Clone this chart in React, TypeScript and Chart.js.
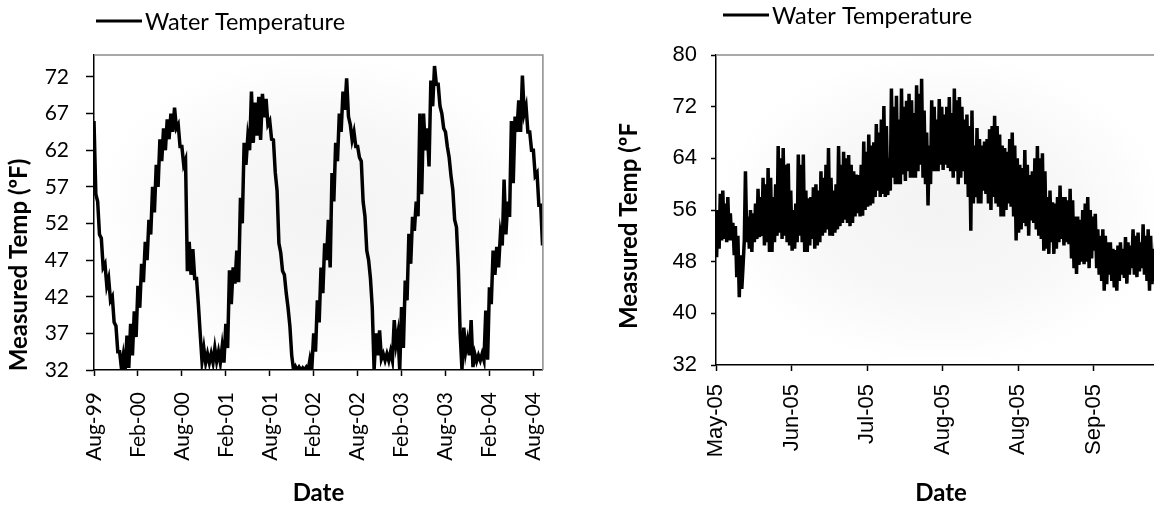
import React, { useEffect, useRef } from "react";
import { Chart, registerables } from "chart.js";

Chart.register(...registerables);

const SERIES_LABEL = "Water Temperature";
const Y_TITLE_LONG = "Measured Temp (ºF)";
const Y_TITLE_SEASON = "Measured Temp (ºF";
const X_TITLE = "Date";

// ---- Long-term record, Aug 1999 onward: high and low reading per half month ----
const longTermPeriodMonths = 0.5;
const longTermHigh = [
  66, 55, 50, 46.5, 44.5, 42, 38, 34.5, 34, 36.7,
  38.3, 40, 43.5, 46.5, 49.5, 52.5, 57, 60, 63.5, 65,
  66.2, 67, 67.8, 65.5, 62.5, 60.7, 49.5, 48.5, 44.5, 37,
  35, 34.2, 34.2, 35, 34.5, 35.2, 38.3, 45.6, 46, 48.3,
  55.5, 63, 63.8, 70, 68.5, 69.3, 69.7, 69, 66, 63.4,
  56.5, 48, 45, 40.5, 34, 32.5, 32.4, 32.3, 32.4, 33.5,
  37, 41.5, 46, 49.3, 52.5, 58.9, 63, 67, 70, 71.8,
  65.5, 64.5, 62.5, 60.5, 53, 47, 40.5, 37, 37.4, 34.2,
  34.2, 34.5, 38.8, 37, 40.6, 44.2, 50.6, 52.9, 55, 67,
  67, 65, 71.5, 73.5, 71, 67, 64.5, 61, 56.6, 51.5,
  37, 37.8, 36, 38.8, 34.2, 34, 34.2, 40.1, 43.3, 48.3,
  48.8, 50.6, 58, 55, 66, 66.6, 68.8, 72.2, 68, 64.5,
  62, 58.9, 54.5,
];
const longTermLow = [
  56, 50.5, 46, 43.5, 41.5, 38.5, 34.5, 32.2, 32, 32.3,
  34, 36.5, 40.5, 44, 47, 50.5, 53.5, 57, 60.5, 62,
  63.5, 64.5, 65, 62.5, 60, 45.5, 45, 44.5, 41, 33.2,
  33, 33, 33, 33.2, 33, 33, 35, 41, 43.8, 44,
  52, 60, 62, 63, 64, 63.4, 66.5, 65.5, 63.5, 59,
  49.3, 45.5, 42.5, 38, 32, 32, 32, 32, 32, 32.3,
  34.5, 38.5, 42.5, 47, 46, 55, 60.5, 64.5, 67.5, 66.6,
  63.4, 62.5, 61, 55, 48.3, 44.5, 32, 34, 33.5, 33.3,
  33.3, 33.3, 35.5, 32, 35, 41.5, 46.5, 51, 53, 56,
  62, 59.8, 68, 71, 68, 65, 62.5, 58.5, 52.5, 46,
  32, 34.5, 34, 32.4, 33.2, 33.3, 33.3, 33.4, 41, 45,
  46, 49, 50.5, 52.9, 57.5, 64.5, 64.5, 67, 64.5, 62,
  58.5, 54.5, 49,
];
const longTermMaxMonth = 61.3;
const longTermTickMonths = [0, 6, 12, 18, 24, 30, 36, 42, 48, 54, 60];
const longTermTickLabels = [
  "Aug-99", "Feb-00", "Aug-00", "Feb-01", "Aug-01", "Feb-02",
  "Aug-02", "Feb-03", "Aug-03", "Feb-04", "Aug-04",
];
const longTermYTicks = [32, 37, 42, 47, 52, 57, 62, 67, 72];
const longTermYMin = 32;
const longTermYMax = 75;

// ---- 2005 season: daily low / high, day 0 = 3 May 2005 ----
const seasonDailyLow = [
  48.7, 50, 51.3, 51.5, 51, 51.3, 51.3, 49, 45.6, 42.5,
  43.8, 51.3, 51, 50, 49.5, 51, 51.5, 51.8, 52, 50.5,
  51, 49.5, 49.5, 51, 52, 52.5, 51.5, 52, 51, 50.5,
  49.7, 50, 51, 52, 51, 49.5, 49.5, 50.5, 51.5, 50,
  50.5, 51, 52, 52.5, 53, 52, 52, 52.5, 53, 53.5,
  54, 54.5, 54, 53.5, 54, 55, 55.5, 55, 55.1, 56,
  56.5, 56.7, 57, 58, 59, 58, 58.5, 58, 58.3, 59,
  61, 60, 60, 60, 61.5, 60.5, 62, 61, 61, 61,
  62, 63, 61, 60, 56.7, 60, 62, 62, 62, 63,
  62.2, 63, 62.5, 62, 61, 62, 60, 61, 62, 60,
  58, 52.8, 57, 58, 57, 57, 59, 58.5, 57, 56,
  58, 57, 56.5, 55, 55, 56, 57, 56.5, 55, 51.3,
  52.5, 53, 54, 53.5, 52, 54.4, 54, 53, 52, 51.5,
  49.7, 50, 49.2, 51, 49.2, 50, 51, 51.5, 50.5, 51,
  50.7, 48.5, 47, 46.1, 47.5, 48, 47.6, 48, 47, 48.5,
  49.7, 47, 46, 45, 43.5, 44.5, 46, 45, 44, 43.5,
  45, 46, 45.5, 44.6, 46, 47, 46, 45.6, 46.5, 47,
  46, 45, 43.5, 44.5, 45, 46, 45, 46, 47,
];
const seasonDailyHigh = [
  56, 58.5, 59, 57, 58, 55.5, 54, 53.5, 52, 49,
  47, 62, 55, 56, 55.5, 57, 59.3, 58, 61, 60,
  62.5, 61, 58, 60, 65.9, 64, 65.6, 63, 63.2, 59,
  56, 57, 64.6, 63, 64.6, 59, 57.8, 58, 59.5, 60,
  59, 62, 61, 63, 65.6, 61, 59, 60, 65.9, 63,
  65, 64, 64.5, 63, 62, 61.5, 61.4, 63, 66.6, 65,
  67.7, 66, 66.5, 69.3, 68, 70, 72.1, 69, 64, 74.8,
  72, 73.7, 70, 74.8, 72, 72.9, 74, 73, 71, 75.3,
  74, 76.3, 71.4, 68, 66, 73, 72, 70, 73.2, 72,
  70.8, 72, 73.5, 71, 74.8, 73, 73.5, 72, 70, 70.8,
  69, 71.4, 66, 68.7, 67, 66, 66.6, 67, 68.5, 69,
  70.6, 69, 67.7, 66, 65.6, 65, 67, 68, 66, 64,
  63, 62.5, 65.3, 63, 61.4, 62, 64, 65.9, 64, 64.8,
  62, 58, 59, 57.2, 57, 58, 59.8, 58, 58, 57.5,
  59.3, 57.5, 55, 55, 54.5, 56, 57, 58, 56, 55,
  55.4, 53, 52, 53, 52, 51, 51, 50, 49.8, 50.5,
  51, 50, 51.8, 51, 50.5, 53, 52, 52.5, 51, 53.8,
  52, 53, 52, 50, 51, 50.5, 49.5, 51, 50,
];
const seasonMaxDay = 178.8;
const seasonTickDays = [0, 30, 60, 90, 120, 150];
const seasonTickLabels = ["May-05", "Jun-05", "Jul-05", "Aug-05", "Aug-05", "Sep-05"];
const seasonYTicks = [32, 40, 48, 56, 64, 72, 80];
const seasonYMin = 32;
const seasonYMax = 80;

const CALIBRI_LIKE = "Lato";
const ARIAL_LIKE = "'Liberation Sans'";
const TITLE_FONT = { family: CALIBRI_LIKE, size: 24, weight: "bold" };

type PanelStyle = {
  legendLine: [number, number];
  legendY: number;
  legendFont: string;
  drawRightBorder: boolean;
  yTitle: string;
  yTitleX: number;
  yTitleY: number;
};

// Plot-area shading, frame, rotated y title and the one-item legend
const panelPlugin = {
  id: "panelDecor",
  beforeDraw(chart: any) {
    const { ctx, chartArea: a } = chart;
    const w = a.right - a.left;
    const h = a.bottom - a.top;
    ctx.save();
    ctx.translate((a.left + a.right) / 2, (a.top + a.bottom) / 2);
    ctx.scale(w / 2, h / 2);
    const g = ctx.createRadialGradient(0, 0, 0, 0, 0, 1);
    g.addColorStop(0, "#f3f3f3");
    g.addColorStop(0.6, "#f8f8f8");
    g.addColorStop(1, "#ffffff");
    ctx.fillStyle = g;
    ctx.fillRect(-1, -1, 2, 2);
    ctx.restore();
  },
  afterDraw(chart: any, _args: any, opts: PanelStyle) {
    const { ctx, chartArea: a } = chart;
    ctx.save();
    ctx.strokeStyle = "#8c8c8c";
    ctx.lineWidth = 1.5;
    ctx.beginPath();
    ctx.moveTo(a.left, a.top);
    ctx.lineTo(opts.drawRightBorder ? a.right : chart.width, a.top);
    if (opts.drawRightBorder) ctx.lineTo(a.right, a.bottom);
    ctx.stroke();

    const [x0, x1] = opts.legendLine;
    ctx.strokeStyle = "#000";
    ctx.lineWidth = 3;
    ctx.beginPath();
    ctx.moveTo(x0, opts.legendY);
    ctx.lineTo(x1, opts.legendY);
    ctx.stroke();
    ctx.fillStyle = "#000";
    ctx.font = opts.legendFont;
    ctx.textBaseline = "middle";
    ctx.textAlign = "left";
    ctx.fillText(chart.data.datasets[0].label, x1 + 3, opts.legendY + 1);

    ctx.translate(opts.yTitleX, opts.yTitleY);
    ctx.rotate(-Math.PI / 2);
    ctx.textAlign = "center";
    ctx.font = `bold ${TITLE_FONT.size}px ${TITLE_FONT.family}`;
    ctx.fillText(opts.yTitle, 0, 0);
    ctx.restore();
  },
};

function fixedTicks(values: number[]) {
  return (scale: any) => {
    scale.ticks = values.map((value) => ({ value }));
  };
}

function baseConfig(points: { x: number; y: number }[], o: any): any {
  const tickFont = o.tickFont;
  return {
    type: "line",
    data: {
      datasets: [
        {
          label: SERIES_LABEL,
          data: points,
          borderColor: "#000",
          borderWidth: 3.5,
          pointRadius: 0,
          tension: 0,
          fill: false,
        },
      ],
    },
    plugins: [panelPlugin],
    options: {
      responsive: false,
      animation: false,
      events: [],
      layout: { padding: { top: 55, left: 0, right: o.padRight, bottom: 0 } },
      plugins: {
        legend: { display: false },
        tooltip: { enabled: false },
        panelDecor: o.decor,
      },
      scales: {
        x: {
          type: "linear",
          min: 0,
          max: o.xMax,
          afterBuildTicks: fixedTicks(o.xTicks),
          afterFit: (s: any) => {
            s.height = o.xHeight;
          },
          grid: {
            drawOnChartArea: false,
            drawTicks: true,
            tickLength: 6,
            tickColor: "#000",
            tickWidth: 1.5,
          },
          border: { display: true, color: "#000", width: 1.5 },
          ticks: {
            autoSkip: false,
            minRotation: 90,
            maxRotation: 90,
            padding: o.xTickPad,
            color: "#000",
            font: tickFont,
            callback: (_v: any, i: number) => o.xLabels[i],
          },
          title: {
            display: true,
            text: X_TITLE,
            color: "#000",
            font: TITLE_FONT,
            padding: { top: 0, bottom: 0 },
          },
        },
        y: {
          type: "linear",
          min: o.yMin,
          max: o.yMax,
          afterBuildTicks: fixedTicks(o.yTicks),
          afterFit: (s: any) => {
            s.width = o.yWidth;
          },
          grid: {
            drawOnChartArea: false,
            drawTicks: true,
            tickLength: o.yTickLen,
            tickColor: "#000",
            tickWidth: 1.5,
          },
          border: { display: true, color: "#000", width: 1.5 },
          ticks: { padding: o.yTickPad, color: "#000", font: tickFont },
          title: { display: false },
        },
      },
    },
  };
}

function longTermConfig(): any {
  const points: { x: number; y: number }[] = [];
  longTermHigh.forEach((high, p) => {
    points.push({ x: p * longTermPeriodMonths, y: high });
    points.push({ x: p * longTermPeriodMonths + 0.25, y: longTermLow[p] });
  });
  return baseConfig(points, {
    tickFont: { family: CALIBRI_LIKE, size: 21 },
    padRight: 20,
    xMax: longTermMaxMonth,
    xTicks: longTermTickMonths,
    xLabels: longTermTickLabels,
    xHeight: 138,
    xTickPad: 16,
    yMin: longTermYMin,
    yMax: longTermYMax,
    yTicks: longTermYTicks,
    yWidth: 94,
    yTickLen: 8,
    yTickPad: 17,
    decor: {
      legendLine: [96, 142],
      legendY: 21,
      legendFont: `23.5px ${CALIBRI_LIKE}`,
      drawRightBorder: true,
      yTitle: Y_TITLE_LONG,
      yTitleX: 19,
      yTitleY: 265,
    },
  });
}

function seasonConfig(): any {
  const points: { x: number; y: number }[] = [];
  seasonDailyLow.forEach((low, d) => {
    points.push({ x: d + 0.25, y: low });
    points.push({ x: d + 0.7, y: seasonDailyHigh[d] });
  });
  return baseConfig(points, {
    tickFont: { family: ARIAL_LIKE, size: 22 },
    padRight: 12,
    xMax: seasonMaxDay,
    xTicks: seasonTickDays,
    xLabels: seasonTickLabels,
    xHeight: 143,
    xTickPad: 13,
    yMin: seasonYMin,
    yMax: seasonYMax,
    yTicks: seasonYTicks,
    yWidth: 138,
    yTickLen: 5,
    yTickPad: 14,
    decor: {
      legendLine: [145, 191],
      legendY: 15,
      legendFont: `23.5px ${CALIBRI_LIKE}`,
      drawRightBorder: false,
      yTitle: Y_TITLE_SEASON,
      yTitleX: 51,
      yTitleY: 226,
    },
  });
}

export default function App() {
  const leftRef = useRef<HTMLCanvasElement>(null);
  const rightRef = useRef<HTMLCanvasElement>(null);

  useEffect(() => {
    const left = new Chart(leftRef.current!, longTermConfig());
    const right = new Chart(rightRef.current!, seasonConfig());
    return () => {
      left.destroy();
      right.destroy();
    };
  }, []);

  return (
    <div
      style={{
        position: "fixed",
        left: 0,
        top: 0,
        width: 1154,
        height: 508,
        overflow: "hidden",
        background: "#fff",
      }}
    >
      <canvas
        ref={leftRef}
        width={575}
        height={508}
        style={{ position: "absolute", left: 0, top: 0 }}
      />
      <canvas
        ref={rightRef}
        width={600}
        height={508}
        style={{ position: "absolute", left: 578, top: 0 }}
      />
    </div>
  );
}
